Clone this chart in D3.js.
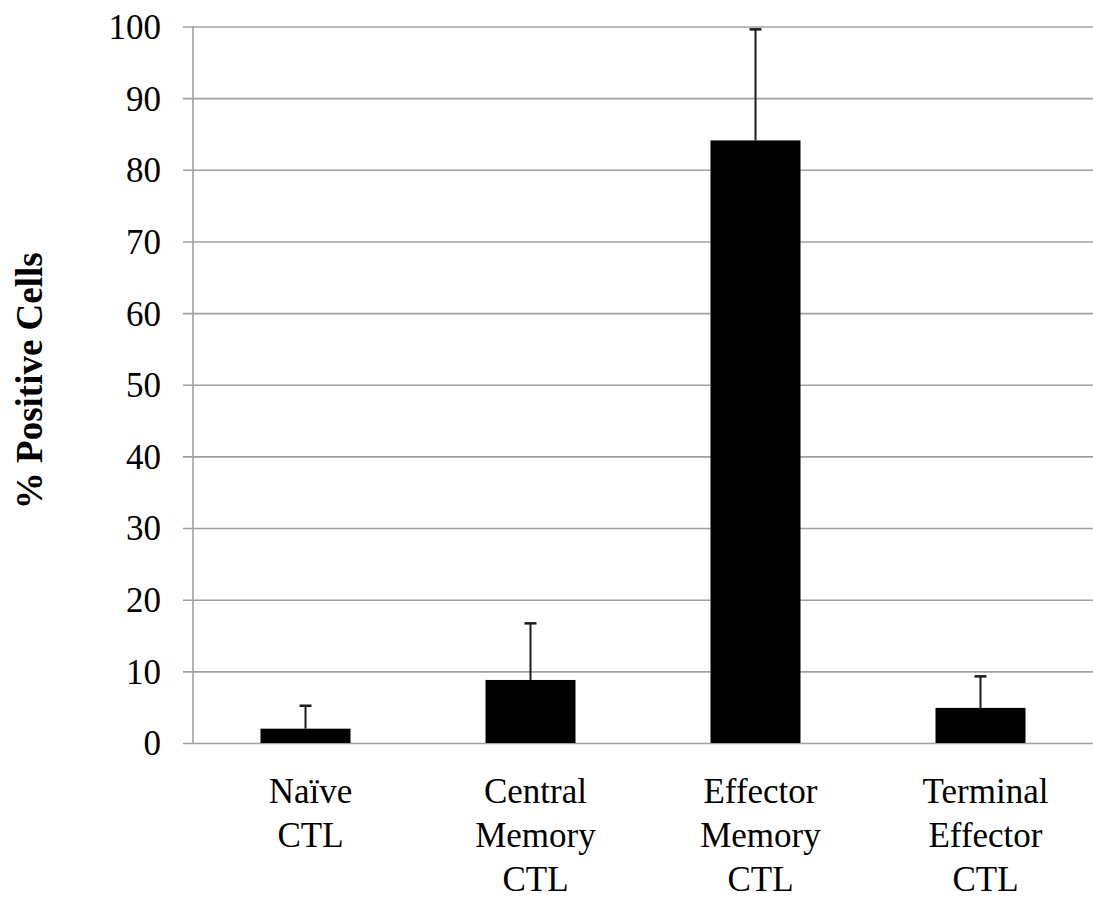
<!DOCTYPE html>
<html>
<head>
<meta charset="utf-8">
<script src="https://cdn.jsdelivr.net/npm/d3@7/dist/d3.min.js"></script>
<style>
  html, body { margin: 0; padding: 0; background: #fff; }
  svg { display: block; }
  text { font-family: "Liberation Serif", "Times New Roman", serif; fill: #000; }
</style>
</head>
<body>
<svg id="chart" width="1093" height="901"></svg>
<script>
// Cell populations (each label split into its printed lines)
const categories = ["Naive", "Central Memory", "Effector Memory", "Terminal Effector"];
const categoryLines = [
  ["Naïve", "CTL"],
  ["Central", "Memory", "CTL"],
  ["Effector", "Memory", "CTL"],
  ["Terminal", "Effector", "CTL"]
];
// Mean % positive cells and upper error (SD)
const meanValues = [2.0, 8.8, 84.1, 4.9];
const errorValues = [3.2, 7.9, 15.5, 4.4];
const yTicks = [0, 10, 20, 30, 40, 50, 60, 70, 80, 90, 100];
const yTitle = "% Positive Cells";

const svg = d3.select("#chart");
const margin = { left: 193, right: 0, top: 26.5, bottom: 158 };
const W = 1093, H = 901;

const x = d3.scaleBand()
  .domain(categories)
  .range([margin.left, W - margin.right])
  .paddingInner(0.6)
  .paddingOuter(0.3);

const y = d3.scaleLinear()
  .domain([0, 100])
  .range([H - margin.bottom, margin.top]);

// Horizontal gridlines with short outward ticks
const yAxis = d3.axisLeft(y)
  .tickValues(yTicks)
  .tickSize(-(W - margin.left - margin.right))
  .tickSizeOuter(0)
  .tickPadding(0)
  .tickFormat(d3.format("d"));

const gy = svg.append("g")
  .attr("transform", `translate(${margin.left},0)`)
  .call(yAxis);
gy.select(".domain").remove();
gy.selectAll(".tick line")
  .attr("x1", -10)
  .attr("stroke", "#a0a0a0")
  .attr("stroke-width", 1.6);
gy.selectAll(".tick text")
  .attr("x", -32)
  .attr("dy", "0.34em")
  .attr("font-size", 35)
  .attr("font-family", "Liberation Serif, serif")
  .attr("fill", "#000");

// Vertical axis line
svg.append("line")
  .attr("x1", margin.left).attr("x2", margin.left)
  .attr("y1", y(100)).attr("y2", y(0))
  .attr("stroke", "#a0a0a0")
  .attr("stroke-width", 1.6);

// Bars
svg.append("g").selectAll("rect")
  .data(meanValues)
  .join("rect")
  .attr("x", (d, i) => x(categories[i]))
  .attr("width", x.bandwidth())
  .attr("y", d => y(d))
  .attr("height", d => y(0) - y(d))
  .attr("fill", "#000");

// Upper error bars
const eb = svg.append("g").attr("stroke", "#1a1a1a").attr("stroke-width", 2);
meanValues.forEach((m, i) => {
  const cx = x(categories[i]) + x.bandwidth() / 2;
  const top = y(m + errorValues[i]);
  eb.append("line")
    .attr("x1", cx).attr("x2", cx)
    .attr("y1", y(m)).attr("y2", top);
  eb.append("line")
    .attr("x1", cx - 6).attr("x2", cx + 6)
    .attr("y1", top).attr("y2", top)
    .attr("stroke-width", 2.5);
});

// Category labels
const lab = svg.append("g").attr("font-size", 35).attr("text-anchor", "middle");
categoryLines.forEach((lines, i) => {
  const cx = x(categories[i]) + x.bandwidth() / 2 + 5;
  const t = lab.append("text").attr("x", cx).attr("y", 803);
  lines.forEach((ln, j) => {
    t.append("tspan")
      .attr("x", cx)
      .attr("dy", j === 0 ? 0 : 44)
      .text(ln);
  });
});

// Y axis title
svg.append("text")
  .attr("transform", `translate(42,${(y(0) + y(100)) / 2 - 4}) rotate(-90)`)
  .attr("text-anchor", "middle")
  .attr("font-size", 37)
  .attr("font-weight", "bold")
  .text(yTitle);
</script>
</body>
</html>
